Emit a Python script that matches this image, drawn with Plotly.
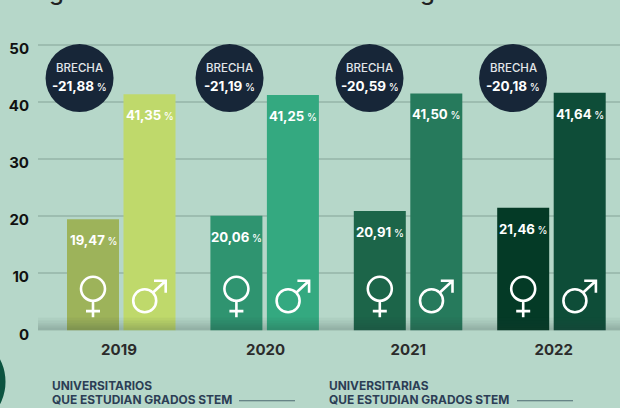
import plotly.graph_objects as go

YEARS = ["2019", "2020", "2021", "2022"]
WOMEN = [19.47, 20.06, 20.91, 21.46]
MEN = [41.35, 41.25, 41.50, 41.64]
GAP = ["-21,88", "-21,19", "-20,59", "-20,18"]
WOMEN_COLORS = ["#9db35a", "#2f9470", "#1c6549", "#043a26"]
MEN_COLORS = ["#bfd96b", "#34a980", "#267a5c", "#0e4d38"]
Y_TICKS = [0, 10, 20, 30, 40, 50]

W, H = 620, 408
L, T, BASE = 38, 20, 330.5
SCALE = 5.71
EXTRA = 1.0                 # axis units kept below zero so the 0 label can be shown
BOTTOM = BASE + EXTRA * SCALE
UNIT = 143.4
CX0 = 121
FONT = "Inter"
BG = "#b6d7c9"
idx = list(range(len(YEARS)))
YTOP = (BASE - T) / SCALE
XMIN = (L - CX0) / UNIT
XMAX = (W - CX0) / UNIT
BW = 52 / UNIT
OF = -54 / UNIT
OM = 2.5 / UNIT
BUB = [-0.289, -0.243, -0.267, -0.266]
YEAR_SHIFT = [-2, 1.2, 0.5, 2.5]

# pixel-sized icons, anchored on each bar's foot: (ring centre x, y, radius), strokes
VENUS = ((0, 41.5, 12), "M0,29.5 L0,13 M-7,19.2 L7,19.2")
MARS = ((-4.8, 29.5, 11.5), "M3.3,37.6 L16.2,49.5 M4.5,49.5 L16.2,49.5 L16.2,37.5")

def px(x):
    return (x - L) / (W - L)

def py(y):
    return (BOTTOM - y) / (BOTTOM - T)

def fmt(v):
    return f"{v:.2f}".replace(".", ",")

fig = go.Figure()
fig.add_bar(x=idx, y=WOMEN, width=BW, offset=OF, marker=dict(color=WOMEN_COLORS, line_width=0), name="Universitarias")
fig.add_bar(x=idx, y=MEN, width=BW, offset=OM, marker=dict(color=MEN_COLORS, line_width=0), name="Universitarios")
fig.add_scatter(x=[i + b for i, b in zip(idx, BUB)], y=[44.2] * 4, mode="markers",
                marker=dict(size=68, color="#172638", line_width=0), showlegend=False)
fig.add_scatter(x=[0], y=[0], yaxis="y2", mode="markers", marker=dict(opacity=0), showlegend=False)

ann = []
def text(x, y, s, size, color="white", weight=700, xref="paper", yref="paper", **kw):
    ann.append(dict(x=x, y=y, xref=xref, yref=yref, text=s, showarrow=False,
                    font=dict(family=FONT, size=size, color=color, weight=weight), **kw))

shapes = []
for i in idx:
    for vals, off, ((cx, cy, r), strokes) in ((WOMEN, OF, VENUS), (MEN, OM, MARS)):
        s = f"{fmt(vals[i])}<span style='font-size:10px;font-weight:500'> %</span>"
        mid = i + off + BW / 2
        text(mid, vals[i], s, 13.2, xref="x", yref="y", yanchor="middle", yshift=-21)
        stroke = dict(color="white", width=2.6)
        shapes.append(dict(type="circle", xsizemode="pixel", ysizemode="pixel", xref="x", yref="y",
                           xanchor=mid, yanchor=0, x0=cx - r, x1=cx + r, y0=cy - r, y1=cy + r,
                           line=stroke, layer="above"))
        shapes.append(dict(type="path", path=strokes, xsizemode="pixel", ysizemode="pixel", xref="x", yref="y",
                           xanchor=mid, yanchor=0, line=stroke, layer="above"))
    xb = i + BUB[i]
    text(xb, 44.2, "BRECHA", 11.5, color="#e3e6ea", weight=500, xref="x", yref="y", yshift=10)
    s = f"{GAP[i]}<span style='font-size:10px;font-weight:500'> %</span>"
    text(xb, 44.2, s, 13.5, xref="x", yref="y", yshift=-8)

for x, a, b in ((50, "UNIVERSITARIOS", "QUE ESTUDIAN GRADOS STEM"), (327, "UNIVERSITARIAS", "QUE ESTUDIAN GRADOS STEM")):
    text(px(x), py(386), a, 11.9, color="#2c3e55", xanchor="left", yanchor="middle")
    text(px(x), py(400), b, 11.9, color="#2c3e55", xanchor="left", yanchor="middle")

for x, g in ((56, "g"), (314, "♀"), (427, "g")):
    text(px(x), py(-9), g, 24, color="#222222", weight=500, xanchor="center", yanchor="middle")

for top in (2.2, 1.7, 1.25, 0.85, 0.45):
    shapes.append(dict(type="rect", xref="paper", yref="y", x0=0, x1=1, y0=0, y1=top,
                       fillcolor="rgba(40,60,50,0.05)", line_width=0, layer="above"))
for x0, x1, y in ((239, 295, 401), (517, 573, 401)):
    shapes.append(dict(type="line", xref="paper", yref="paper", x0=px(x0), x1=px(x1), y0=py(y), y1=py(y),
                       line=dict(color="#4d6a70", width=1.2)))
shapes.append(dict(type="circle", xref="paper", yref="paper", x0=px(-92.5), x1=px(5.5), y0=py(431), y1=py(333),
                   fillcolor="#0c5440", line_width=0))

fig.update_layout(
    width=W, height=H, autosize=False, paper_bgcolor=BG, plot_bgcolor=BG, showlegend=False,
    margin=dict(l=L, r=0, t=T, b=H - BOTTOM, pad=0), barmode="overlay",
    annotations=ann, shapes=shapes,
    xaxis=dict(range=[XMIN, XMAX], tickvals=[i + d / UNIT for i, d in zip(idx, YEAR_SHIFT)], ticktext=YEARS,
               showgrid=False, zeroline=False, ticks="", ticklabelstandoff=3,
               tickfont=dict(family=FONT, size=15, color="#2b2b2b", weight=700)),
    yaxis=dict(range=[-EXTRA, YTOP], tickvals=Y_TICKS[1:], showticklabels=False, showgrid=True, gridcolor="#9dbdb0",
               gridwidth=1.5, zeroline=False, ticks=""),
    yaxis2=dict(overlaying="y", side="left", range=[-EXTRA + 0.7, YTOP + 0.7], tickvals=Y_TICKS, showgrid=False,
                zeroline=False, ticks="", ticklabelstandoff=8,
                tickfont=dict(family=FONT, size=15, color="#111111", weight=700)),
)
fig.write_html("out.html", config=dict(displayModeBar=False),
               post_script="document.body.style.margin='0';document.body.style.overflow='hidden';")
